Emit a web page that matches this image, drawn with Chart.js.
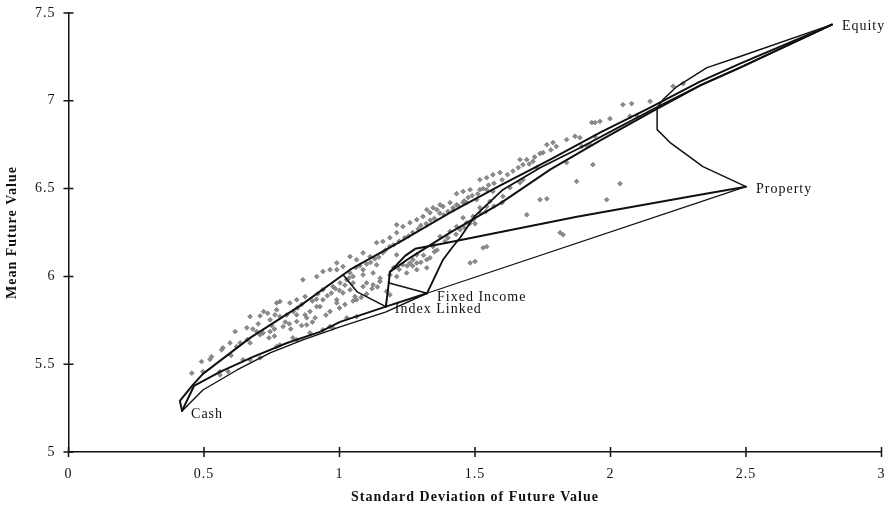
<!DOCTYPE html>
<html>
<head>
<meta charset="utf-8">
<script src="https://cdn.jsdelivr.net/npm/chart.js@4/dist/chart.umd.min.js"></script>
<style>
  html, body { margin: 0; padding: 0; background: #fff; }
</style>
</head>
<body>
<canvas id="c" width="891" height="509"></canvas>
<script>
// Axis ticks
const xTickValues = [0, 0.5, 1, 1.5, 2, 2.5, 3];
const xTickLabels = ['0', '0.5', '1', '1.5', '2', '2.5', '3'];
const yTickValues = [5, 5.5, 6, 6.5, 7, 7.5];
const yTickLabels = ['5', '5.5', '6', '6.5', '7', '7.5'];

// Single-asset positions (standard deviation, mean of future value)
const assetNames = ['Cash', 'Index Linked', 'Fixed Income', 'Property', 'Equity'];
const assetSd    = [0.419, 1.171, 1.323, 2.5, 2.817];
const assetMean  = [5.234, 5.828, 5.904, 6.511, 7.434];

// Mixed portfolios
const portfolioSd = [
  0.455,0.491,0.522,0.570,0.596,0.615,0.658,0.670,0.707,0.633,0.670,0.496,0.559,0.644,0.670,0.707,
  0.744,0.780,0.792,0.694,0.718,0.744,0.768,0.805,0.842,0.873,0.879,0.780,0.842,0.928,0.939,0.990,
  0.780,0.842,0.891,0.939,0.976,0.528,0.565,0.707,0.762,0.768,0.817,0.873,0.891,0.879,0.916,0.939,
  0.976,1.002,1.013,1.039,1.057,1.039,1.087,1.137,1.100,1.149,1.186,1.234,1.271,1.285,1.322,0.910,
  0.842,1.039,1.063,1.113,1.160,1.211,0.990,0.965,0.916,0.865,0.939,1.174,1.186,1.482,1.500,0.559,
  0.589,0.768,0.828,0.965,1.027,1.063,0.990,1.013,1.087,1.137,1.160,1.186,1.211,1.234,1.260,1.285,
  1.308,1.334,1.359,1.382,1.432,1.469,1.211,1.027,1.050,1.087,1.124,1.063,0.990,1.211,1.248,1.285,
  1.322,1.260,1.334,1.285,1.345,1.371,1.408,1.432,1.469,1.493,1.124,1.087,1.322,1.345,1.371,1.408,
  1.432,1.456,1.482,1.518,1.419,1.456,1.506,1.543,1.518,1.543,1.566,1.592,1.666,1.691,1.714,1.677,
  1.765,1.788,1.838,1.869,1.887,1.751,1.456,1.493,1.518,1.543,1.555,1.445,1.603,1.629,1.666,1.728,
  1.838,1.875,1.740,1.765,1.691,1.814,1.825,1.530,1.543,1.931,1.943,1.961,1.998,2.046,2.078,2.146,
  2.231,2.268,1.935,2.035,1.986,1.924,2.072,1.677,1.566,1.943,1.912,1.894,2.097,
  0.720,0.735,0.750,0.760,0.800,0.815,0.830,0.845,0.860,0.900,0.915,0.920,0.955,0.970,0.985,1.000,
  1.020,1.035,1.050,1.060,1.075,1.100,1.115,1.130,1.145,1.170,1.185,1.200,1.220,1.240,1.255,1.270,
  1.290,1.300,1.320,1.335,1.350,1.370,1.385,1.400,1.420,1.440,1.460,1.475,1.490,1.510,1.530,1.550,
  1.570,1.600,1.620,1.640,1.660,1.700,1.720,1.740,1.780,1.800,
  0.950,0.965,1.000,1.020,1.050,1.080,1.100,1.120,1.140,1.150,1.200,1.220,1.250,1.270,1.300,1.310,
  1.350,1.360,1.390,1.400,1.430,1.460,1.480,1.500,1.520,1.540,1.570,1.600,
  0.600,0.620,0.660,0.680,0.700,0.740,0.760,0.820,0.860,0.900
];
const portfolioMean = [
  5.449,5.515,5.528,5.593,5.621,5.686,5.707,5.771,5.775,5.621,5.621,5.458,5.458,5.525,5.525,5.536,
  5.753,5.771,5.714,5.686,5.678,5.686,5.810,5.781,5.781,5.781,5.724,5.857,5.867,5.828,5.867,5.849,
  5.610,5.639,5.678,5.696,5.707,5.543,5.582,5.667,5.781,5.849,5.849,5.885,5.800,5.764,5.828,5.924,
  5.942,5.963,5.906,5.924,5.885,6.020,6.038,6.066,5.963,5.971,6.009,6.066,6.095,6.076,6.095,5.764,
  5.743,6.113,6.095,6.113,6.134,6.123,6.077,6.038,5.999,5.981,6.028,5.914,5.895,6.077,6.085,5.439,
  5.458,5.600,5.650,5.714,5.764,5.771,6.038,6.056,6.134,6.192,6.199,6.220,6.249,6.284,6.306,6.323,
  6.341,6.363,6.380,6.398,6.408,6.420,6.294,5.981,5.963,5.942,5.952,5.867,5.867,5.999,6.020,6.038,
  6.049,6.077,6.106,6.123,6.170,6.227,6.256,6.284,6.306,6.323,6.020,6.009,6.380,6.391,6.408,6.420,
  6.471,6.484,6.494,6.494,6.391,6.420,6.437,6.494,6.551,6.562,6.579,6.591,6.665,6.665,6.655,6.636,
  6.750,6.762,6.779,6.798,6.790,6.705,6.334,6.341,6.391,6.398,6.427,6.266,6.456,6.505,6.534,6.619,
  6.648,6.541,6.437,6.442,6.351,6.249,6.237,6.163,6.170,6.876,6.876,6.883,6.898,6.978,6.984,6.997,
  7.083,7.098,6.636,6.528,6.437,6.750,6.912,6.551,6.484,6.798,6.744,6.740,6.916,
  5.800,5.790,5.720,5.700,5.740,5.730,5.800,5.820,5.840,5.860,5.870,5.900,5.890,5.905,5.930,5.920,
  5.950,5.990,6.000,6.050,6.060,6.070,6.080,6.100,6.110,6.150,6.170,6.180,6.200,6.220,6.230,6.250,
  6.270,6.290,6.300,6.320,6.330,6.360,6.350,6.370,6.380,6.400,6.430,6.450,6.460,6.470,6.500,6.520,
  6.530,6.550,6.580,6.600,6.620,6.640,6.680,6.700,6.720,6.740,
  5.780,5.800,5.820,5.840,5.860,5.880,5.900,5.930,5.940,5.990,6.050,6.040,6.060,6.060,6.080,6.120,
  6.140,6.150,6.200,6.220,6.240,6.280,6.300,6.300,6.360,6.370,6.400,6.420,
  5.550,5.600,5.640,5.700,5.730,5.650,5.660,5.700,5.720,5.740
];

// Boundary curves between asset mixes: [sd, mean] pairs
const cashToEquity = [[0.419,5.234],[0.411,5.291],[0.459,5.382],[0.496,5.445],[0.670,5.650],[0.854,5.832],
  [1.039,6.038],[1.223,6.197],[1.408,6.363],[1.592,6.517],[1.777,6.665],[1.961,6.819],[2.146,6.961],
  [2.330,7.109],[2.478,7.212],[2.817,7.434]];
const indexLinkedToEquity = [[1.171,5.828],[1.179,5.924],[1.186,6.026],[1.260,6.106],[1.408,6.249],
  [1.592,6.414],[1.777,6.608],[1.961,6.773],[2.146,6.933],[2.330,7.087],[2.478,7.189],[2.817,7.434]];
const indexLinkedToProperty = [[1.186,6.026],[1.242,6.117],[1.279,6.157],[1.397,6.192],[1.581,6.249],
  [1.876,6.340],[2.330,6.465],[2.5,6.511]];
const fixedIncomeToEquity = [[1.323,5.904],[1.352,5.998],[1.382,6.095],[1.415,6.163],[1.445,6.220],
  [1.500,6.345],[1.603,6.494],[1.740,6.619],[1.888,6.733],[2.035,6.853],[2.183,6.973],[2.330,7.087],
  [2.478,7.189],[2.817,7.434]];
const cashToIndexLinked = [[0.419,5.234],[0.463,5.376],[0.559,5.456],[0.681,5.542],[0.806,5.621],
  [0.928,5.684],[1.002,5.741],[1.171,5.828]];
const cashToFixedIncome = [[0.419,5.234],[0.496,5.353],[0.622,5.467],[0.744,5.564],[0.865,5.639],
  [1.002,5.713],[1.172,5.798],[1.323,5.904]];
const fixedIncomeToProperty = [[1.323,5.904],[2.5,6.511]];
const indexLinkedToFixedIncome = [[1.171,5.828],[1.323,5.904]];
const upperToIndexLinked = [[1.013,6.010],[1.065,5.912],[1.171,5.828]];
const indexLinkedBranchToFixedIncome = [[1.183,5.963],[1.323,5.904]];
const propertyToEquity = [[2.5,6.511],[2.341,6.625],[2.220,6.762],[2.172,6.836],[2.172,6.961],
  [2.194,7.007],[2.245,7.081],[2.356,7.189],[2.478,7.252],[2.817,7.434]];

const SERIF = '"Liberation Serif", "Times New Roman", serif';

function curve(points, width) {
  return {
    type: 'scatter',
    data: points.map(p => ({ x: p[0], y: p[1] })),
    showLine: true,
    borderColor: '#111',
    borderWidth: width,
    borderJoinStyle: 'round',
    borderCapStyle: 'round',
    pointRadius: 0,
    pointHoverRadius: 0,
    fill: false,
    tension: 0,
    order: 1
  };
}

const datasets = [
  curve(cashToEquity, 2),
  curve(indexLinkedToEquity, 2),
  curve(indexLinkedToProperty, 2),
  curve(fixedIncomeToEquity, 1.8),
  curve(cashToIndexLinked, 2),
  curve(cashToFixedIncome, 1.4),
  curve(fixedIncomeToProperty, 1.2),
  curve(indexLinkedToFixedIncome, 2),
  curve(upperToIndexLinked, 1.6),
  curve(indexLinkedBranchToFixedIncome, 1.6),
  curve(propertyToEquity, 1.5),
  {
    type: 'scatter',
    data: portfolioSd.map((v, i) => ({ x: v, y: portfolioMean[i] })),
    pointStyle: 'rectRot',
    pointRadius: 2.4,
    pointBackgroundColor: '#8c8c8c',
    pointBorderColor: '#666',
    pointBorderWidth: 0.6,
    showLine: false,
    order: 2
  }
];

// Tick marks that straddle the axis lines
const crossTicks = {
  id: 'crossTicks',
  afterDraw(chart) {
    const { ctx, scales: { x, y } } = chart;
    const y0 = y.getPixelForValue(yTickValues[0]);
    const x0 = x.getPixelForValue(xTickValues[0]);
    ctx.save();
    ctx.strokeStyle = '#111';
    ctx.lineWidth = 1.5;
    ctx.beginPath();
    xTickValues.forEach(v => {
      const px = x.getPixelForValue(v);
      ctx.moveTo(px, y0 - 5);
      ctx.lineTo(px, y0 + 5);
    });
    yTickValues.forEach(v => {
      const py = y.getPixelForValue(v);
      ctx.moveTo(x0 - 5, py);
      ctx.lineTo(x0 + 5, py);
    });
    ctx.stroke();
    ctx.restore();
  }
};

// Asset names beside their points
const assetLabels = {
  id: 'assetLabels',
  afterDatasetsDraw(chart) {
    const { ctx, scales: { x, y } } = chart;
    ctx.save();
    ctx.font = '14px ' + SERIF;
    ctx.fillStyle = '#111';
    ctx.textAlign = 'left';
    ctx.textBaseline = 'middle';
    const shifts = [[9, 3], [9, 3], [10, 4], [10, 3], [10, 2]];
    assetNames.forEach((name, i) => {
      const px = x.getPixelForValue(assetSd[i]);
      const py = y.getPixelForValue(assetMean[i]);
      ctx.fillText(name, px + shifts[i][0], py + shifts[i][1]);
    });
    ctx.restore();
  }
};

const spacedText = {
  id: 'spacedText',
  beforeDraw(chart) { chart.ctx.letterSpacing = '1px'; }
};

// Keep the plot box fixed: no extra room reserved for overhanging tick labels
function noLabelPadding(s) {
  s.paddingLeft = 0; s.paddingRight = 0; s.paddingTop = 0; s.paddingBottom = 0;
}

new Chart(document.getElementById('c'), {
  type: 'scatter',
  data: { datasets },
  options: {
    responsive: false,
    animation: false,
    events: [],
    layout: { padding: { left: 0, right: 9.5, top: 13, bottom: 0 } },
    plugins: { legend: { display: false }, tooltip: { enabled: false } },
    scales: {
      x: {
        type: 'linear',
        min: 0,
        max: 3,
        afterBuildTicks: s => { s.ticks = xTickValues.map(v => ({ value: v })); },
        afterFit: s => { s.height = 57; noLabelPadding(s); },
        grid: { display: false, drawTicks: false, tickLength: 0 },
        border: { display: true, color: '#111', width: 1.5 },
        ticks: {
          padding: 14,
          color: '#111',
          font: { family: SERIF, size: 14 },
          maxRotation: 0,
          autoSkip: false,
          callback: (v, i) => xTickLabels[i]
        },
        title: {
          display: true,
          text: 'Standard Deviation of Future Value',
          color: '#111',
          font: { family: SERIF, size: 14, weight: 'bold' },
          padding: { top: 0, bottom: 3.5 }
        }
      },
      y: {
        type: 'linear',
        min: 5,
        max: 7.5,
        afterBuildTicks: s => { s.ticks = yTickValues.map(v => ({ value: v })); },
        afterFit: s => { s.width = 68.5; noLabelPadding(s); },
        grid: { display: false, drawTicks: false, tickLength: 0 },
        border: { display: true, color: '#111', width: 1.5 },
        ticks: {
          padding: 13,
          color: '#111',
          font: { family: SERIF, size: 14 },
          autoSkip: false,
          callback: (v, i) => yTickLabels[i]
        },
        title: {
          display: true,
          text: 'Mean Future Value',
          color: '#111',
          font: { family: SERIF, size: 14, weight: 'bold' },
          padding: { top: 3.5, bottom: 0 }
        }
      }
    }
  },
  plugins: [spacedText, crossTicks, assetLabels]
});
</script>
</body>
</html>
